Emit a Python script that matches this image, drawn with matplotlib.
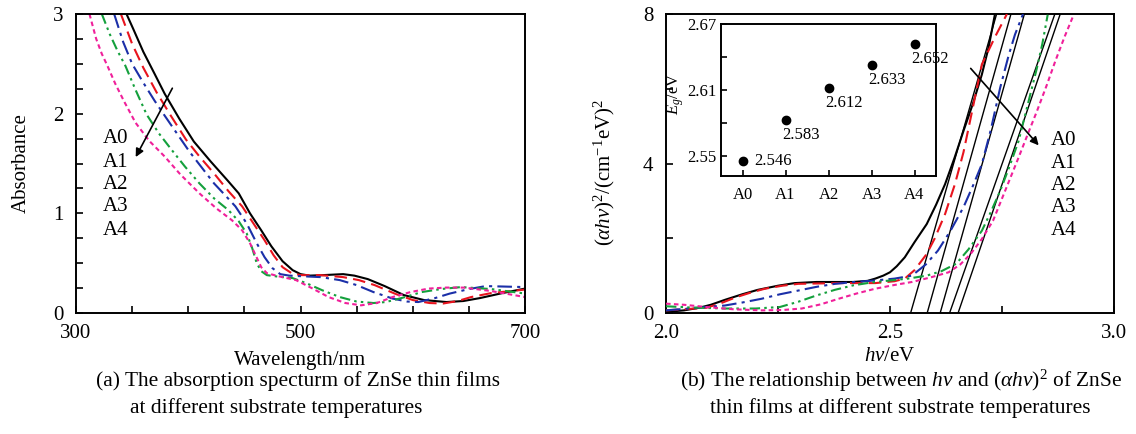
import numpy as np
import matplotlib
matplotlib.use("Agg")
import matplotlib.pyplot as plt
from matplotlib.ticker import FixedLocator

plt.rcParams['font.family'] = ['Liberation Serif', 'DejaVu Serif']
plt.rcParams['mathtext.fontset'] = 'custom'
plt.rcParams['mathtext.rm'] = 'Liberation Serif'
plt.rcParams['mathtext.it'] = 'Liberation Serif:italic'

samples = ["A0", "A1", "A2", "A3", "A4"]
colors = ["black", "#e8141e", "#1b2fa8", "#14a03c", "#f0209a"]
styles = ["-", (0, (6, 3)), (0, (7, 2.5, 1.5, 2.5)), (0, (5, 2, 1.2, 2, 1.2, 2)), (0, (2.2, 1.6))]

# absorption spectra (wavelength nm, absorbance)
wl_a0 = [345, 351, 360, 370, 379, 392, 405, 420, 435, 445, 455, 465, 474, 484, 493, 500, 508, 520, 538, 548, 560, 575, 592, 610, 630, 645, 660, 680, 700]
ab_a0 = [3.0, 2.85, 2.62, 2.4, 2.2, 1.95, 1.72, 1.52, 1.33, 1.2, 1.0, 0.83, 0.67, 0.52, 0.43, 0.39, 0.375, 0.38, 0.39, 0.375, 0.34, 0.27, 0.18, 0.13, 0.11, 0.12, 0.15, 0.2, 0.245]
wl_a1 = [340, 350, 360, 372, 385, 398, 410, 423, 436, 448, 458, 468, 476, 484, 492, 500, 518, 538, 552, 566, 585, 600, 615, 627, 640, 652, 670, 700]
ab_a1 = [3.0, 2.7, 2.46, 2.21, 1.97, 1.74, 1.57, 1.40, 1.22, 1.07, 0.9, 0.73, 0.58, 0.46, 0.4, 0.38, 0.38, 0.36, 0.33, 0.28, 0.19, 0.13, 0.1, 0.095, 0.12, 0.16, 0.2, 0.235]
wl_a2 = [334, 342, 350, 360, 370, 379, 390, 401, 412, 423, 433, 442, 452, 461, 468, 475, 482, 490, 518, 535, 550, 565, 582, 595, 605, 620, 633, 650, 665, 700]
ab_a2 = [3.0, 2.72, 2.5, 2.31, 2.13, 1.98, 1.8, 1.62, 1.46, 1.30, 1.18, 1.07, 0.9, 0.70, 0.56, 0.45, 0.39, 0.375, 0.36, 0.33, 0.28, 0.21, 0.145, 0.115, 0.11, 0.15, 0.195, 0.24, 0.27, 0.26]
wl_a3 = [323, 330, 337, 344, 353, 363, 374, 385, 397, 410, 423, 436, 445, 452, 457, 461, 465, 470, 480, 493, 505, 519, 535, 550, 565, 576, 590, 608, 625, 643, 670, 700]
ab_a3 = [3.0, 2.8, 2.63, 2.48, 2.24, 1.99, 1.8, 1.64, 1.47, 1.30, 1.15, 1.03, 0.92, 0.80, 0.65, 0.5, 0.42, 0.38, 0.365, 0.35, 0.3, 0.23, 0.16, 0.115, 0.1, 0.11, 0.15, 0.21, 0.24, 0.26, 0.24, 0.195]
wl_a4 = [312, 318, 323, 328, 335, 343, 353, 365, 379, 393, 410, 425, 439, 448, 455, 460, 465, 470, 480, 496, 510, 525, 540, 554, 568, 582, 598, 614, 630, 646, 670, 700]
ab_a4 = [3.0, 2.75, 2.6, 2.48, 2.3, 2.12, 1.91, 1.73, 1.57, 1.39, 1.20, 1.05, 0.93, 0.83, 0.70, 0.58, 0.46, 0.40, 0.37, 0.33, 0.25, 0.16, 0.1, 0.077, 0.1, 0.16, 0.21, 0.245, 0.255, 0.255, 0.22, 0.16]

# Tauc plot (hv eV, (alpha hv)^2)
hv_a0 = [2.0, 2.04, 2.074, 2.10, 2.131, 2.17, 2.205, 2.25, 2.287, 2.336, 2.418, 2.45, 2.467, 2.485, 2.5, 2.515, 2.533, 2.555, 2.582, 2.603, 2.623, 2.644, 2.664, 2.685, 2.705, 2.72, 2.734]
ah_a0 = [0.03, 0.07, 0.14, 0.22, 0.35, 0.5, 0.62, 0.73, 0.8, 0.83, 0.83, 0.86, 0.92, 1.0, 1.09, 1.25, 1.49, 1.9, 2.38, 2.9, 3.45, 4.15, 4.87, 5.6, 6.38, 7.1, 7.98]
hv_a1 = [2.0, 2.09, 2.12, 2.156, 2.19, 2.221, 2.26, 2.295, 2.385, 2.467, 2.51, 2.533, 2.555, 2.582, 2.60, 2.623, 2.645, 2.664, 2.685, 2.705, 2.735, 2.761]
ah_a1 = [0.07, 0.14, 0.25, 0.42, 0.55, 0.65, 0.73, 0.78, 0.8, 0.8, 0.85, 0.92, 1.15, 1.58, 2.0, 2.65, 3.45, 4.3, 5.5, 6.65, 7.4, 8.0]
hv_a2 = [2.0, 2.131, 2.17, 2.213, 2.254, 2.295, 2.336, 2.377, 2.42, 2.467, 2.51, 2.549, 2.58, 2.607, 2.635, 2.664, 2.685, 2.705, 2.725, 2.746, 2.765, 2.779, 2.797]
ah_a2 = [0.07, 0.2, 0.28, 0.38, 0.5, 0.6, 0.7, 0.78, 0.83, 0.87, 0.92, 1.0, 1.3, 1.67, 2.2, 2.83, 3.4, 3.98, 4.9, 6.03, 6.9, 7.45, 8.0]
hv_a3 = [2.0, 2.05, 2.131, 2.2, 2.254, 2.295, 2.336, 2.377, 2.418, 2.46, 2.5, 2.54, 2.582, 2.615, 2.648, 2.675, 2.705, 2.725, 2.746, 2.766, 2.787, 2.808, 2.828, 2.84, 2.852]
ah_a3 = [0.18, 0.15, 0.12, 0.12, 0.16, 0.3, 0.47, 0.62, 0.74, 0.82, 0.87, 0.92, 1.0, 1.12, 1.32, 1.7, 2.2, 2.7, 3.27, 3.9, 4.6, 5.6, 6.56, 7.2, 7.98]
hv_a4 = [2.0, 2.04, 2.09, 2.15, 2.213, 2.26, 2.303, 2.345, 2.385, 2.425, 2.467, 2.51, 2.549, 2.59, 2.631, 2.657, 2.68, 2.705, 2.73, 2.758, 2.787, 2.808, 2.828, 2.85, 2.869, 2.89, 2.91]
ah_a4 = [0.25, 0.22, 0.16, 0.1, 0.07, 0.08, 0.12, 0.23, 0.38, 0.52, 0.65, 0.75, 0.83, 0.95, 1.09, 1.3, 1.58, 1.98, 2.47, 3.3, 4.16, 4.8, 5.4, 6.1, 6.74, 7.4, 7.98]

# band gaps and where each fitted line leaves the top of the plot
eg = [2.546, 2.583, 2.612, 2.633, 2.652]
fit_top_hv = [2.738, 2.770, 2.800, 2.868, 2.880]

spectra = [(wl_a0, ab_a0), (wl_a1, ab_a1), (wl_a2, ab_a2), (wl_a3, ab_a3), (wl_a4, ab_a4)]
tauc = [(hv_a0, ah_a0), (hv_a1, ah_a1), (hv_a2, ah_a2), (hv_a3, ah_a3), (hv_a4, ah_a4)]

W, H = 1136, 434
fig = plt.figure(figsize=(W / 100, H / 100), dpi=100)

def box(l, t, r, b):
    return [l / W, 1 - b / H, (r - l) / W, (b - t) / H]

ax1 = fig.add_axes(box(76, 14, 525, 313))
ax2 = fig.add_axes(box(666, 14, 1114, 313))
ins = fig.add_axes(box(721, 24, 936, 176))

fs = 15
for ax in (ax1, ax2, ins):
    for s in ax.spines.values():
        s.set_linewidth(1.4)
    ax.tick_params(which='both', direction='in', length=5, width=1.2, labelsize=fs,
                   top=False, right=False)

# (a) absorption spectra
for (x, y), c, ls in zip(spectra, colors, styles):
    ax1.plot(x, y, color=c, ls=ls, lw=1.5)
ax1.set_xlim(300, 700)
ax1.set_ylim(0, 3)
ax1.xaxis.set_major_locator(FixedLocator([300, 500, 700]))
ax1.xaxis.set_minor_locator(FixedLocator([350, 400, 450, 550, 600, 650]))
ax1.yaxis.set_major_locator(FixedLocator([0, 1, 2, 3]))
ax1.yaxis.set_minor_locator(FixedLocator(np.arange(0.25, 3, 0.25)))
ax1.tick_params(axis='x', pad=8)
ax1.tick_params(axis='y', pad=9)
ax1.set_xlabel("Wavelength/nm", fontsize=fs, labelpad=6)
ax1.set_ylabel("Absorbance", fontsize=fs, labelpad=16)
ax1.annotate("", xy=(352, 1.54), xytext=(387, 2.28),
             arrowprops=dict(arrowstyle='-|>', color='black', lw=1.2, mutation_scale=12))
for name, yy in zip(samples, [1.75, 1.51, 1.29, 1.07, 0.83]):
    ax1.text(324, yy, name, fontsize=fs, va='center', ha='left')

# (b) Tauc plot
for (x, y), c, ls in zip(tauc, colors, styles):
    ax2.plot(x, y, color=c, ls=ls, lw=1.5, zorder=3)
for e, top in zip(eg, fit_top_hv):
    ax2.plot([e, top], [0, 8], color='black', lw=1.0, zorder=2)
ax2.set_xlim(2.0, 3.0)
ax2.set_ylim(0, 8)
ax2.xaxis.set_major_locator(FixedLocator([2.0, 2.5, 3.0]))
ax2.xaxis.set_minor_locator(FixedLocator([2.25, 2.75]))
ax2.xaxis.set_major_formatter(plt.FuncFormatter(lambda v, p: f"{v:.1f}"))
ax2.yaxis.set_major_locator(FixedLocator([0, 4, 8]))
ax2.yaxis.set_minor_locator(FixedLocator([2, 6]))
ax2.tick_params(axis='x', pad=8)
ax2.tick_params(axis='y', pad=9)
ax2.set_xlabel(r"$hv$/eV", fontsize=fs, labelpad=3)
ax2.set_ylabel(r"($\alpha hv$)$^2$/(cm$^{-1}$eV)$^2$", fontsize=fs)
ax2.yaxis.set_label_coords(-0.11, 0.47)
ax2.annotate("", xy=(2.836, 4.43), xytext=(2.676, 6.6),
             arrowprops=dict(arrowstyle='-|>', color='black', lw=1.2, mutation_scale=12))
for name, yy in zip(samples, [4.62, 4.0, 3.42, 2.83, 2.2]):
    ax2.text(2.86, yy, name, fontsize=fs, va='center', ha='left')

# inset: band gap per sample
pos = np.arange(len(samples))
ins.plot(pos, eg, 'o', color='black', ms=6)
ins.set_xlim(-0.5, 4.5)
ins.set_ylim(2.532, 2.67)
ins.set_xticks(pos)
ins.set_xticklabels(samples)
ins.yaxis.set_major_locator(FixedLocator([2.55, 2.61, 2.67]))
ins.yaxis.set_minor_locator(FixedLocator([2.58, 2.64]))
ins.tick_params(which='both', labelsize=12, length=4)
ins.tick_params(axis='x', pad=8)
ins.set_ylabel(r"$E_g$/eV", fontsize=12)
ins.yaxis.set_label_coords(-0.163, 0.54)
for i, v in enumerate(eg):
    if i == 0:
        ins.text(i + 0.27, v, f"{v:.3f}", fontsize=12, va='center', ha='left')
    else:
        ins.text(i - 0.08, v - 0.014, f"{v:.3f}", fontsize=12, va='center', ha='left')

# captions
fig.text(298 / W, 1 - 381 / H, "(a) The absorption specturm of ZnSe thin films",
         fontsize=15.4, ha='center', va='center')
fig.text(130 / W, 1 - 408 / H, "at different substrate temperatures",
         fontsize=15.4, ha='left', va='center')
fig.text(901 / W, 1 - 381 / H, r"(b) The relationship between $hv$ and ($\alpha hv$)$^2$ of ZnSe",
         fontsize=15.4, ha='center', va='center')
fig.text(900 / W, 1 - 408 / H, "thin films at different substrate temperatures",
         fontsize=15.4, ha='center', va='center')

fig.savefig("out.png", dpi=100)
